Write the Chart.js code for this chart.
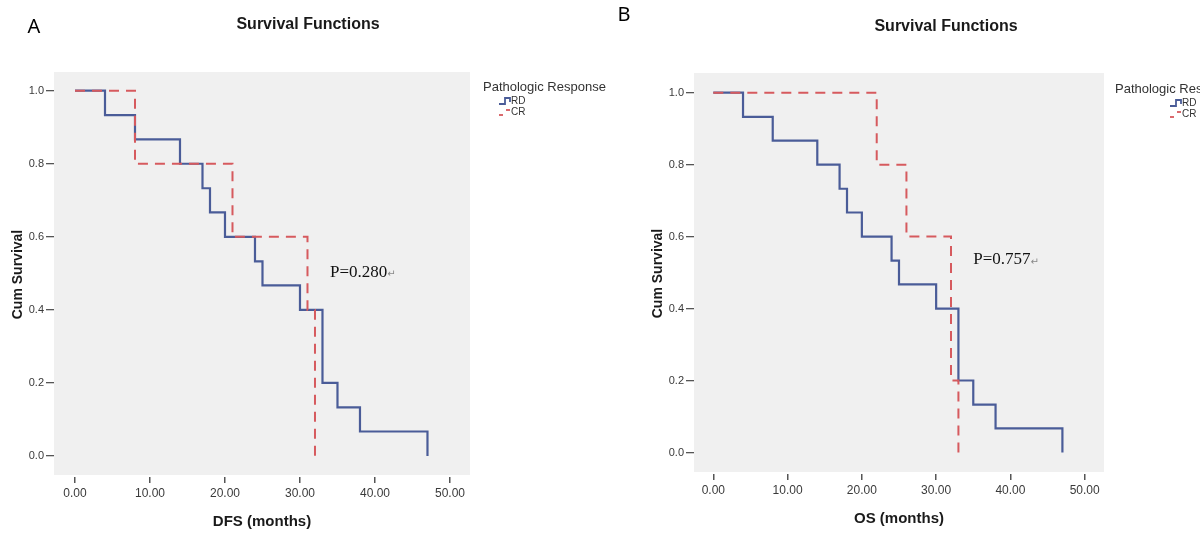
<!DOCTYPE html>
<html><head><meta charset="utf-8">
<script src="https://cdn.jsdelivr.net/npm/chart.js@4/dist/chart.umd.min.js"></script>
<style>
html,body{margin:0;padding:0;background:#fff;overflow:hidden;width:1200px;height:539px;position:relative}
.panel{position:absolute;top:0;height:539px}
#pa{left:0;width:640px}
#pb{left:600px;width:640px}
</style></head><body>
<div class="panel" id="pa"><canvas id="ca" width="640" height="539"></canvas></div>
<div class="panel" id="pb"><canvas id="cb" width="640" height="539"></canvas></div>
<script>
// ---- data ----
const dfsRdTime = [0, 4, 8, 14, 17, 18, 20, 24, 25, 30, 33, 35, 38, 47];
const dfsRdSurv = [1, 0.933, 0.867, 0.8, 0.733, 0.667, 0.6, 0.533, 0.467, 0.4, 0.2, 0.133, 0.067, 0];
const dfsCrTime = [0, 8, 21, 31, 32];
const dfsCrSurv = [1, 0.8, 0.6, 0.4, 0];
const osRdTime = [0, 4, 8, 14, 17, 18, 20, 24, 25, 30, 33, 35, 38, 47];
const osRdSurv = [1, 0.933, 0.867, 0.8, 0.733, 0.667, 0.6, 0.533, 0.467, 0.4, 0.2, 0.133, 0.067, 0];
const osCrTime = [0, 22, 26, 32, 33];
const osCrSurv = [1, 0.8, 0.6, 0.2, 0];
const xTickValues = [0, 10, 20, 30, 40, 50];
const yTickValues = [0, 0.2, 0.4, 0.6, 0.8, 1.0];
const seriesNames = ['RD', 'CR'];
const legendTitle = 'Pathologic Response';
const chartTitle = 'Survival Functions';
const yAxisTitle = 'Cum Survival';

const BLUE = '#4a5c98';
const RED = '#d65a5e';
Chart.defaults.font.family = '"Liberation Sans", Arial, sans-serif';

function pts(t, s) { return t.map((v, i) => ({x: v, y: s[i]})); }

const decor = {
  id: 'decor',
  beforeDraw(chart, args, o) {
    const {ctx, chartArea: a} = chart;
    ctx.save();
    ctx.fillStyle = '#f0f0f0';
    ctx.fillRect(a.left, a.top, a.right - a.left, a.bottom - a.top - 2);
    ctx.restore();
  },
  afterDraw(chart, args, o) {
    const ctx = chart.ctx, xs = chart.scales.x, ys = chart.scales.y;
    ctx.save();
    ctx.textBaseline = 'middle';
    // title
    ctx.fillStyle = '#1a1a1a';
    ctx.textAlign = 'center';
    ctx.font = 'bold 16px "Liberation Sans"';
    ctx.fillText(chartTitle, o.titleX, o.titleY);
    // panel letter
    ctx.fillStyle = '#000';
    ctx.font = '20px "Noto Sans"';
    ctx.fillText(o.letter, o.letterX, o.letterY);
    // legend
    ctx.textAlign = 'left';
    ctx.fillStyle = '#333';
    ctx.font = '13px "Liberation Sans"';
    ctx.fillText(legendTitle, o.legX, o.legY);
    const ix = o.iconX;
    // RD icon (step)
    let iy = o.rdY;
    ctx.strokeStyle = BLUE; ctx.lineWidth = 1.8; ctx.setLineDash([]);
    ctx.beginPath();
    ctx.moveTo(ix, iy + 3); ctx.lineTo(ix + 6, iy + 3); ctx.lineTo(ix + 6, iy - 3);
    ctx.lineTo(ix + 11, iy - 3); ctx.lineTo(ix + 11, iy + 1);
    ctx.stroke();
    ctx.fillStyle = '#333';
    ctx.font = '10px "Liberation Sans"';
    ctx.fillText(seriesNames[0], ix + 12, iy);
    // CR icon (dashed step)
    iy = o.crY;
    ctx.strokeStyle = RED;
    ctx.beginPath(); ctx.moveTo(ix, iy + 3); ctx.lineTo(ix + 4, iy + 3); ctx.stroke();
    ctx.beginPath(); ctx.moveTo(ix + 7, iy - 2); ctx.lineTo(ix + 11, iy - 2); ctx.stroke();
    ctx.fillText(seriesNames[1], ix + 12, iy);
    // p-value annotation
    const px = xs.getPixelForValue(o.pX), py = ys.getPixelForValue(o.pY);
    ctx.fillStyle = '#111';
    ctx.font = '17px "Liberation Serif"';
    ctx.fillText(o.pText, px, py);
    const w = ctx.measureText(o.pText).width;
    ctx.fillStyle = '#888';
    ctx.font = '10px "DejaVu Sans"';
    ctx.fillText('\u21B5', px + w, py + 2);
    ctx.restore();
  }
};

function makeChart(id, c) {
  return new Chart(document.getElementById(id), {
    type: 'line',
    data: {
      datasets: [
        { label: seriesNames[1], data: pts(c.crT, c.crS), stepped: true, borderColor: RED,
          borderWidth: 2, borderDash: [10, 7], pointRadius: 0, fill: false, tension: 0 },
        { label: seriesNames[0], data: pts(c.rdT, c.rdS), stepped: true, borderColor: BLUE,
          borderWidth: 2.2, pointRadius: 0, fill: false, tension: 0 }
      ]
    },
    options: {
      responsive: false,
      animation: false,
      devicePixelRatio: 1,
      layout: { padding: { left: c.padL, right: c.padR, top: c.padT, bottom: 0 } },
      plugins: { legend: { display: false }, tooltip: { enabled: false }, decor: c.decor },
      scales: {
        x: {
          type: 'linear', min: c.xMin, max: c.xMax,
          afterBuildTicks: s => { s.ticks = xTickValues.map(v => ({value: v})); },
          afterFit: s => { s.height = c.xAxisH; },
          ticks: { callback: v => Number(v).toFixed(2), color: '#3a3a3a', font: { size: 12 },
                   padding: 3, maxRotation: 0, autoSkip: false },
          grid: { drawOnChartArea: false, drawTicks: true, tickLength: 6, color: '#555', lineWidth: 1.5 },
          border: { display: false },
          title: { display: true, text: c.xTitle, color: '#1a1a1a',
                   font: { size: 15, weight: 'bold' }, padding: { top: 0, bottom: c.xTitlePad } }
        },
        y: {
          type: 'linear', min: c.yMin, max: c.yMax,
          afterBuildTicks: s => { s.ticks = yTickValues.map(v => ({value: v})); },
          afterFit: s => { s.width = 54; },
          ticks: { callback: v => Number(v).toFixed(1), color: '#3a3a3a', font: { size: 11 }, padding: 2 },
          grid: { drawOnChartArea: false, drawTicks: true, tickLength: 8, color: '#555', lineWidth: 1.3 },
          border: { display: false },
          title: { display: true, text: yAxisTitle, color: '#1a1a1a',
                   font: { size: 14, weight: 'bold' }, padding: { top: 10, bottom: 0 } }
        }
      }
    },
    plugins: [decor]
  });
}

makeChart('ca', {
  rdT: dfsRdTime, rdS: dfsRdSurv, crT: dfsCrTime, crS: dfsCrSurv,
  padL: 0, padR: 170, padT: 72, xAxisH: 62, xTitlePad: 8,
  xMin: -2.8, xMax: 52.67, yMin: -0.0575, yMax: 1.0512,
  xTitle: 'DFS (months)',
  decor: { titleX: 308, titleY: 25, letter: 'A', letterX: 34, letterY: 27,
           legX: 483, legY: 87, iconX: 499, rdY: 101, crY: 112,
           pText: 'P=0.280', pX: 34, pY: 0.503 }
});

makeChart('cb', {
  rdT: osRdTime, rdS: osRdSurv, crT: osCrTime, crS: osCrSurv,
  padL: 40, padR: 136, padT: 73, xAxisH: 65, xTitlePad: 11,
  xMin: -2.6, xMax: 52.6, yMin: -0.0598, yMax: 1.0547,
  xTitle: 'OS (months)',
  decor: { titleX: 346, titleY: 27, letter: 'B', letterX: 24, letterY: 15,
           legX: 515, legY: 89, iconX: 570, rdY: 103, crY: 114,
           pText: 'P=0.757', pX: 35, pY: 0.535 }
});
</script>
</body></html>
